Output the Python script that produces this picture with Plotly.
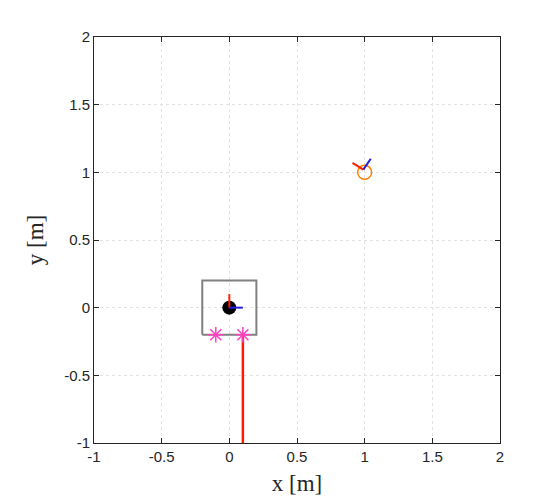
import plotly.graph_objects as go

# robot body (square) and pose
box_x = [-0.2, 0.2, 0.2, -0.2, -0.2]
box_y = [-0.2, -0.2, 0.2, 0.2, -0.2]
robot_x = [0]
robot_y = [0]
robot_red_x = [0, 0]
robot_red_y = [0, 0.1]
robot_blue_x = [0, 0.1]
robot_blue_y = [0, 0]

# wheels and trail
wheel_x = [-0.1, 0.1]
wheel_y = [-0.2, -0.2]
trail_x = [0.1, 0.1]
trail_y = [-0.2, -1.0]

# goal pose
goal_x = [1]
goal_y = [1]
goal_red_x = [0.99, 0.91]
goal_red_y = [1.02, 1.07]
goal_blue_x = [0.99, 1.045]
goal_blue_y = [1.02, 1.10]

ticks = [-1, -0.5, 0, 0.5, 1, 1.5, 2]
tick_text = ["-1", "-0.5", "0", "0.5", "1", "1.5", "2"]

fig = go.Figure()

fig.add_trace(go.Scatter(x=box_x, y=box_y, mode="lines",
                         line=dict(color="#808080", width=2)))
fig.add_trace(go.Scatter(x=robot_x, y=robot_y, mode="markers",
                         marker=dict(color="black", size=14)))
fig.add_trace(go.Scatter(x=robot_red_x, y=robot_red_y, mode="lines",
                         line=dict(color="#ff2000", width=2)))
fig.add_trace(go.Scatter(x=robot_blue_x, y=robot_blue_y, mode="lines",
                         line=dict(color="#2020e0", width=2)))
fig.add_trace(go.Scatter(x=trail_x, y=trail_y, mode="lines",
                         line=dict(color="#ff1a00", width=2.5)))
fig.add_trace(go.Scatter(x=wheel_x, y=wheel_y, mode="markers",
                         marker=dict(symbol="asterisk-open", size=13, color="#ff40c0",
                                     line=dict(color="#ff40c0", width=1.5))))
fig.add_trace(go.Scatter(x=goal_x, y=goal_y, mode="markers",
                         marker=dict(symbol="circle-open", size=14, color="#ff8000",
                                     line=dict(color="#ff8000", width=1.5))))
fig.add_trace(go.Scatter(x=goal_red_x, y=goal_red_y, mode="lines",
                         line=dict(color="#ff2000", width=2)))
fig.add_trace(go.Scatter(x=goal_blue_x, y=goal_blue_y, mode="lines",
                         line=dict(color="#2020e0", width=2)))

axis_common = dict(
    range=[-1, 2], tickvals=ticks, ticktext=tick_text,
    ticks="inside", ticklen=5, tickcolor="#262626",
    showline=True, linecolor="#262626", linewidth=1, mirror="ticks",
    showgrid=True, gridcolor="#e2e2e2", griddash="dot", gridwidth=1,
    zeroline=False,
    tickfont=dict(family="Liberation Sans", size=15, color="#262626"),
)

fig.update_layout(
    width=536, height=500,
    margin=dict(l=86, r=44, t=29, b=65),
    paper_bgcolor="white", plot_bgcolor="white",
    showlegend=False,
    xaxis=dict(axis_common,
               title=dict(text="x [m]", standoff=10,
                          font=dict(family="Liberation Serif", size=23, color="#262626"))),
    yaxis=dict(axis_common,
               title=dict(text="y [m]", standoff=14,
                          font=dict(family="Liberation Serif", size=23, color="#262626"))),
)

fig.write_html("out.html")
